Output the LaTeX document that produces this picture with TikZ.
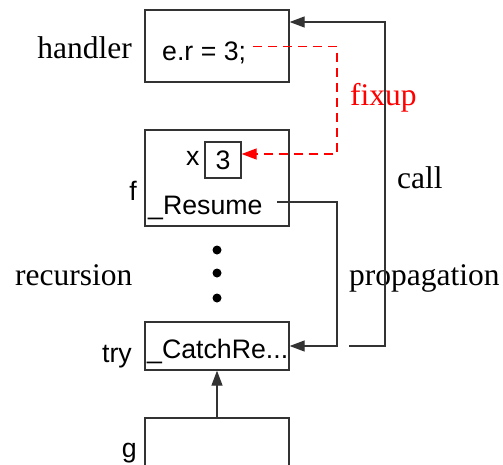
\documentclass[tikz,border=0pt]{standalone}
\usepackage{fontspec}
\setmainfont{Liberation Serif}
\setsansfont{Liberation Sans}
\usetikzlibrary{arrows.meta}
\tikzset{
  box/.style={draw=black!80, line width=1.3pt, rectangle, inner sep=0pt},
  sans/.style={inner sep=0pt, font=\fontsize{26.7}{30}\sffamily},
  serif/.style={inner sep=0pt, font=\fontsize{31.5}{36}\rmfamily},
  conn/.style={draw=black!80, line width=1.3pt, -{Triangle[length=15pt,width=11pt]}},
  fix/.style={draw=red, line width=1.3pt, dash pattern=on 9pt off 6pt, -{Triangle[length=15pt,width=11pt]}},
  dot/.style={circle, fill=black, inner sep=0pt, minimum size=9pt}
}
\begin{document}
\begin{tikzpicture}[x=1pt,y=-1pt]
\useasboundingbox (0,0) rectangle (503,464);
\clip (0,0) rectangle (503,464);
% boxes
\node[box, minimum width=144pt, minimum height=72pt] (hbox) at (217,46) {};
\node[box, minimum width=144pt, minimum height=96pt] (fbox) at (217,178) {};
\node[box, minimum width=36pt, minimum height=36pt] (xbox) at (223,160) {};
\node[box, minimum width=144pt, minimum height=48pt] (tbox) at (217,346) {};
\node[box, minimum width=144pt, minimum height=80pt] (gbox) at (217,458) {};
% texts
\node[sans, anchor=base west] (er) at (162,60) {e.r = 3;};
\node[sans, anchor=base west] (xl) at (186,165) {x};
\node[sans] (three) at (xbox.center) {3};
\node[sans, anchor=base west] (res) at (148,214) {\_Resume};
\node[sans, anchor=base west] (catch) at (147,358) {\_CatchRe...};
\node[serif, anchor=base east] (hl) at (132,58) {handler};
\node[sans, anchor=base east] (fl) at (137,200) {f};
\node[sans, anchor=base east] (tl) at (132,362) {try};
\node[sans, anchor=base east] (gl) at (137,457) {g};
\node[serif, anchor=base west] (rec) at (15,285) {recursion};
\node[serif, anchor=base west] (prop) at (349,285) {propagation};
\node[serif, anchor=base west] (call) at (397,188) {call};
\node[serif, anchor=base west, text=red] (fixup) at (350,105) {fixup};
% dots
\node[dot] (d1) at (217,250) {};
\node[dot] (d2) at (217,273) {};
\node[dot] (d3) at (217,298) {};
% connectors
\coordinate (fixs) at (253,46.7);
\coordinate (props) at (277,202);
\coordinate (calls) at (349,346);
\draw[fix] (fixs) -- (337,46.7) -- (337,154) -- (xbox.east |- 0,154);
\draw[conn] (props) -- (337,202) -- (337,346) -- (tbox.east |- 0,346);
\draw[conn] (calls) -- (385,346) -- (385,22) -- (hbox.east |- 0,22);
\draw[conn] (gbox.north) -- (tbox.south);
\end{tikzpicture}
\end{document}
